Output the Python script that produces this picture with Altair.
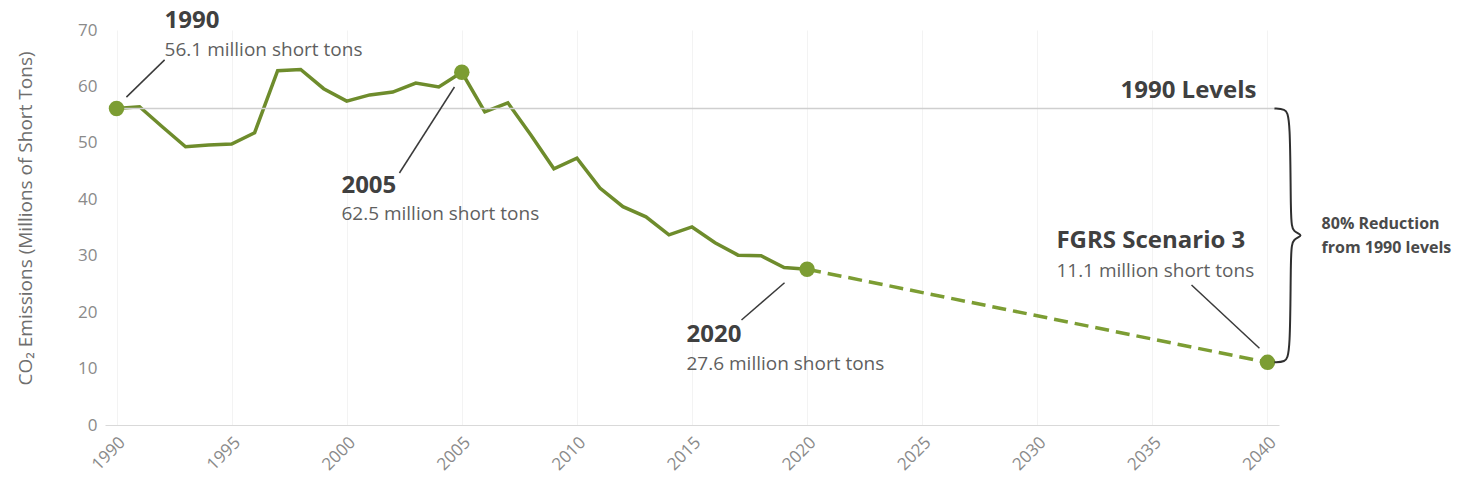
import altair as alt
import pandas as pd

# ---- data ----
years_hist = list(range(1990, 2021))
emissions_hist = [56.1, 56.4, 52.8, 49.3, 49.6, 49.8, 51.8, 62.8, 63.0, 59.6,
                  57.4, 58.5, 59.0, 60.6, 59.9, 62.5, 55.5, 57.1, 51.4, 45.4,
                  47.3, 42.0, 38.7, 36.9, 33.7, 35.1, 32.3, 30.1, 30.0, 27.9, 27.6]
years_proj = [2020, 2040]
emissions_proj = [27.6, 11.1]
key_years = [1990, 2005, 2020, 2040]
key_values = [56.1, 62.5, 27.6, 11.1]
level_1990 = 56.1
tick_years = [1990, 1995, 2000, 2005, 2010, 2015, 2020, 2025, 2030, 2035, 2040]
tick_values = [0, 10, 20, 30, 40, 50, 60, 70]

ann_titles = ["1990", "2005", "2020", "FGRS Scenario 3"]
ann_subtitles = ["56.1 million short tons", "62.5 million short tons",
                 "27.6 million short tons", "11.1 million short tons"]
# annotation layout (data coordinates)
ann_x = [1992.09, 1999.77, 2014.76, 2030.83]
ann_title_y = [70.3, 41.1, 14.7, 31.4]
ann_sub_y = [65.4, 36.3, 9.75, 26.2]
leader_x1 = [1990.43, 2002.29, 2017.15, 2036.70]
leader_y1 = [58.1, 44.66, 18.6, 24.8]
leader_x2 = [1992.09, 2004.68, 2019.02, 2039.65]
leader_y2 = [64.7, 59.9, 25.2, 13.6]

GREEN_LINE = "#6e8c2c"
GREEN_DOT = "#7c9d33"

hist = pd.DataFrame({"year": years_hist, "value": emissions_hist})
proj = pd.DataFrame({"year": years_proj, "value": emissions_proj})
keys = pd.DataFrame({"year": key_years, "value": key_values})
ann = pd.DataFrame({"x": ann_x, "ty": ann_title_y, "sy": ann_sub_y,
                    "title": ann_titles, "sub": ann_subtitles})
leaders = pd.DataFrame({"x": leader_x1, "y": leader_y1, "x2": leader_x2, "y2": leader_y2})
level = pd.DataFrame({"x": [1990], "x2": [2040.3], "y": [level_1990]})

top, bottom = level_1990, emissions_proj[-1]
mid = (top + bottom) / 2
brace = pd.DataFrame({
    "x": [2040.30, 2040.75, 2041.0, 2041.0, 2041.1, 2041.6, 2041.1, 2041.0, 2041.0, 2040.75, 2040.30],
    "y": [top, top - 0.1, top - 1.1, mid + 2.4, mid + 0.6, mid, mid - 0.6, mid - 2.4, bottom + 1.1, bottom + 0.1, bottom],
    "o": list(range(11)),
})
side = pd.DataFrame({"x": [2042.35, 2042.35], "y": [34.7, 30.5],
                     "t": ["80% Reduction", "from 1990 levels"]})
lvl_label = pd.DataFrame({"x": [2039.52], "y": [57.9], "t": ["1990 Levels"]})

xs = alt.Scale(domain=[1989.5, 2040.5], nice=False, zero=False)
ys = alt.Scale(domain=[0, 70], nice=False)

FONT = "Open Sans"

x_axis = alt.Axis(values=tick_years, format="d", labelAngle=-45, labelColor="#8a8a8a",
                  labelFontSize=17, labelFont=FONT, ticks=False, domainColor="#d9d9d9",
                  grid=True, gridColor="#f3f3f3", title=None, labelPadding=9)
y_axis = alt.Axis(values=tick_values, labelColor="#8a8a8a", labelFontSize=17, labelFont=FONT,
                  ticks=False, domain=False, grid=False, labelPadding=8,
                  title="CO₂ Emissions (Millions of Short Tons)", titleColor="#6e6e6e",
                  titleFontSize=19, titleFont=FONT, titleFontWeight="normal",
                  titleX=-70, titleY=188, titleAlign="center")

base_x = alt.X("year:Q", scale=xs, axis=x_axis)
base_y = alt.Y("value:Q", scale=ys, axis=y_axis)

level_rule = alt.Chart(level).mark_rule(color="#cfcfcf", strokeWidth=1.5).encode(
    x=alt.X("x:Q", scale=xs), x2="x2:Q", y=alt.Y("y:Q", scale=ys))

hist_line = alt.Chart(hist).mark_line(color=GREEN_LINE, strokeWidth=3.5).encode(x=base_x, y=base_y)
proj_line = alt.Chart(proj).mark_line(color=GREEN_DOT, strokeWidth=3.5, strokeDash=[14, 7]).encode(
    x=alt.X("year:Q", scale=xs), y=alt.Y("value:Q", scale=ys))
dots = alt.Chart(keys).mark_circle(color=GREEN_DOT, size=240, opacity=1).encode(
    x=alt.X("year:Q", scale=xs), y=alt.Y("value:Q", scale=ys))

leader_rules = alt.Chart(leaders).mark_rule(color="#3a3a3a", strokeWidth=1.5).encode(
    x=alt.X("x:Q", scale=xs), y=alt.Y("y:Q", scale=ys), x2="x2:Q", y2="y2:Q")

titles = alt.Chart(ann).mark_text(align="left", baseline="alphabetic", fontSize=24,
                                  fontWeight="bold", color="#404040", font=FONT).encode(
    x=alt.X("x:Q", scale=xs), y=alt.Y("ty:Q", scale=ys), text="title:N")
subs = alt.Chart(ann).mark_text(align="left", baseline="alphabetic", fontSize=19,
                                color="#5f5f5f", font=FONT).encode(
    x=alt.X("x:Q", scale=xs), y=alt.Y("sy:Q", scale=ys), text="sub:N")

brace_line = alt.Chart(brace).mark_line(color="#2f2f2f", strokeWidth=2, interpolate="basis").encode(
    x=alt.X("x:Q", scale=xs), y=alt.Y("y:Q", scale=ys), order="o:Q")
side_text = alt.Chart(side).mark_text(align="left", baseline="alphabetic", fontSize=16,
                                      fontWeight="bold", color="#4a4a4a", font=FONT).encode(
    x=alt.X("x:Q", scale=xs), y=alt.Y("y:Q", scale=ys), text="t:N")
lvl_text = alt.Chart(lvl_label).mark_text(align="right", baseline="alphabetic", fontSize=24,
                                          fontWeight="bold", color="#404040", font=FONT).encode(
    x=alt.X("x:Q", scale=xs), y=alt.Y("y:Q", scale=ys), text="t:N")

chart = alt.layer(
    hist_line, level_rule, proj_line, leader_rules, dots, titles, subs,
    brace_line, side_text, lvl_text
).properties(
    width=1174, height=395,
    autosize=alt.AutoSizeParams(type="none"),
    padding={"left": 105, "top": 30, "right": 179, "bottom": 67},
    background="white",
).configure_view(stroke=None)

chart.save("out.html", embed_options={"renderer": "svg", "actions": False})
